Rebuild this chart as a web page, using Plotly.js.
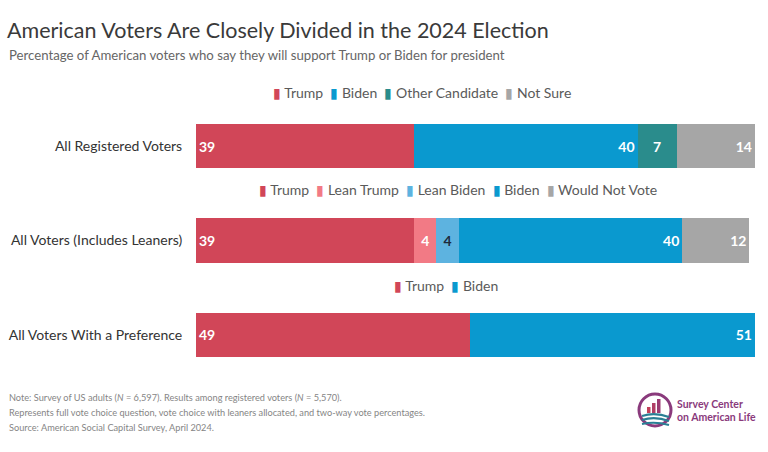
<!DOCTYPE html>
<html>
<head>
<meta charset="utf-8">
<script src="https://cdn.plot.ly/plotly-3.0.1.min.js"></script>
<style>html,body{margin:0;padding:0;background:#fff;}#chart{width:768px;height:452px;}</style>
</head>
<body>
<div id="chart"></div>
<script>
// ---- data ----
const rows = ['All Registered Voters', 'All Voters (Includes Leaners)', 'All Voters With a Preference'];
const row1Names = ['Trump', 'Biden', 'Other Candidate', 'Not Sure'];
const row1Values = [39, 40, 7, 14];
const row2Names = ['Trump', 'Lean Trump', 'Lean Biden', 'Biden', 'Would Not Vote'];
const row2Values = [39, 4, 4, 40, 12];
const row3Names = ['Trump', 'Biden'];
const row3Values = [49, 51];

const titleText = 'American Voters Are Closely Divided in the 2024 Election';
const subtitleText = 'Percentage of American voters who say they will support Trump or Biden for president';
const noteLines = [
  'Note: Survey of US adults (<i>N</i> = 6,597). Results among registered voters (<i>N</i> = 5,570).',
  'Represents full vote choice question, vote choice with leaners allocated, and two-way vote percentages.',
  'Source: American Social Capital Survey, April 2024.'
];

// ---- style ----
const colors = {
  'Trump': '#D14658', 'Biden': '#0A99CF', 'Other Candidate': '#2A8C8C',
  'Not Sure': '#A6A6A6', 'Lean Trump': '#F27A85', 'Lean Biden': '#5DB3E0',
  'Would Not Vote': '#A6A6A6'
};
const anchors = {
  'Trump': 'start', 'Biden': 'end', 'Other Candidate': 'middle', 'Not Sure': 'end',
  'Lean Trump': 'middle', 'Lean Biden': 'middle', 'Would Not Vote': 'end'
};
const textColors = { 'Lean Biden': '#1E2B3C' };
const FONT = 'Lato, "Open Sans", sans-serif';

const L = 196, R = 755, T = 99, B = 382;
const px = x => (x - L) / (R - L);
const py = y => (B - y) / (B - T);

function rowTraces(rowName, names, values) {
  return names.map((n, i) => ({
    type: 'bar', orientation: 'h',
    y: [rowName], x: [values[i]],
    name: n, showlegend: false,
    marker: { color: colors[n], line: { width: 0 } },
    width: 0.47,
    text: [String(values[i])],
    textposition: 'inside',
    insidetextanchor: anchors[n],
    constraintext: 'none',
    textfont: { family: FONT, size: 14, color: textColors[n] || '#ffffff', weight: 700 },
    hoverinfo: 'skip'
  }));
}

const data = [].concat(
  rowTraces(rows[0], row1Names, row1Values),
  rowTraces(rows[1], row2Names, row2Values),
  rowTraces(rows[2], row3Names, row3Values)
);

function legendText(names) {
  return names.map(n => '<span style="color:' + colors[n] + '">▮</span> ' + n).join('  ');
}

const annotations = [
  { text: subtitleText, x: px(7), y: py(55), xanchor: 'left', yanchor: 'middle', font: { size: 13.2, color: '#666666' } },
  { text: legendText(row1Names), x: px(271), y: py(92), xanchor: 'left', yanchor: 'middle', font: { size: 14, color: '#5a5a5a' } },
  { text: legendText(row2Names), x: px(257), y: py(189), xanchor: 'left', yanchor: 'middle', font: { size: 14, color: '#5a5a5a' } },
  { text: legendText(row3Names), x: px(392), y: py(285), xanchor: 'left', yanchor: 'middle', font: { size: 14, color: '#5a5a5a' } },
  { text: noteLines[0], x: px(7), y: py(397), xanchor: 'left', yanchor: 'middle', font: { size: 9.2, color: '#858585' } },
  { text: noteLines[1], x: px(7), y: py(412), xanchor: 'left', yanchor: 'middle', font: { size: 9.2, color: '#858585' } },
  { text: noteLines[2], x: px(7), y: py(427), xanchor: 'left', yanchor: 'middle', font: { size: 9.2, color: '#858585' } },
  { text: '<b>Survey Center</b>', x: px(675), y: py(404), xanchor: 'left', yanchor: 'middle', font: { size: 10.5, color: '#8A3A7C' } },
  { text: '<b>on American Life</b>', x: px(675), y: py(417), xanchor: 'left', yanchor: 'middle', font: { size: 10.5, color: '#8A3A7C' } }
].map(a => Object.assign({ xref: 'paper', yref: 'paper', showarrow: false, align: 'left' }, a));

// logo shapes
const cx = 655, cy = 410, r = 16;
function wave(y0, dy) {
  return 'M' + px(cx - r + 3) + ',' + py(y0) + ' Q' + px(cx) + ',' + py(y0 - dy) + ' ' + px(cx + r - 2) + ',' + py(y0 + 1);
}
const shapes = [
  { type: 'circle', x0: px(cx - r), x1: px(cx + r), y0: py(cy + r), y1: py(cy - r), line: { color: '#8A3A7C', width: 3 } },
  { type: 'rect', x0: px(647), x1: px(650.5), y0: py(413), y1: py(407), fillcolor: '#C2415A', line: { width: 0 } },
  { type: 'rect', x0: px(652), x1: px(655.5), y0: py(413), y1: py(403), fillcolor: '#B03F66', line: { width: 0 } },
  { type: 'rect', x0: px(657), x1: px(660.5), y0: py(413), y1: py(399), fillcolor: '#9A3B72', line: { width: 0 } },
  { type: 'path', path: wave(416, 4), line: { color: '#2A7F95', width: 2.2 } },
  { type: 'path', path: wave(420, 4), line: { color: '#2A7F95', width: 2.2 } },
  { type: 'path', path: wave(424, 3), line: { color: '#2A7F95', width: 2 } }
].map(s => Object.assign({ xref: 'paper', yref: 'paper' }, s));

const layout = {
  width: 768, height: 452,
  margin: { l: L, r: 768 - R, t: T, b: 452 - B, pad: 0 },
  paper_bgcolor: '#ffffff', plot_bgcolor: '#ffffff',
  font: { family: FONT, color: '#333333' },
  barmode: 'stack', bargap: 0,
  showlegend: false,
  title: {
    text: titleText, xref: 'container', yref: 'container',
    x: 7 / 768, xanchor: 'left', y: 1 - 30 / 452, yanchor: 'middle',
    font: { family: FONT, size: 21.5, color: '#3a3a3a' }
  },
  xaxis: { range: [0, 100], visible: false, fixedrange: true },
  yaxis: {
    type: 'category', categoryorder: 'array', categoryarray: rows,
    range: [2.5, -0.5], showgrid: false, zeroline: false, showline: false,
    ticks: 'outside', ticklen: 10, tickcolor: 'rgba(0,0,0,0)',
    tickfont: { family: FONT, size: 14, color: '#333333' }, fixedrange: true
  },
  annotations: annotations,
  shapes: shapes
};

Plotly.newPlot('chart', data, layout, { displayModeBar: false, staticPlot: true });
</script>
</body>
</html>
